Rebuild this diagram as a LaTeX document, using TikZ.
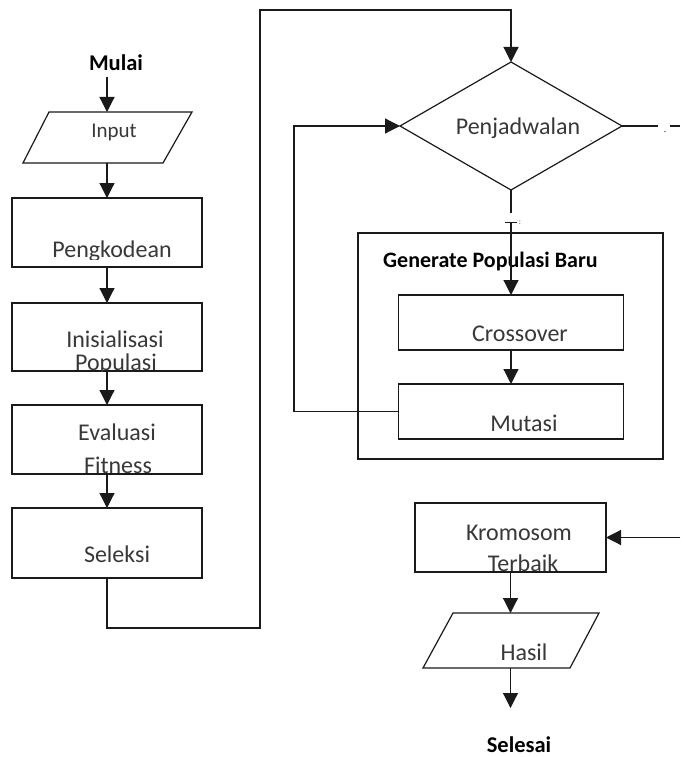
\documentclass[tikz,border=0pt]{standalone}
\usepackage{fontspec}
\setmainfont{Carlito}
\usetikzlibrary{arrows.meta,shapes.geometric}
\definecolor{txt}{HTML}{383838}
\definecolor{ln}{HTML}{1A1A1A}
\tikzset{
  box/.style={draw=ln, line width=1.2pt, inner sep=0pt, outer sep=0pt},
  lbl/.style={anchor=base, text=txt, font=\fontsize{24}{28}\selectfont, inner sep=0pt},
  blbl/.style={anchor=base, text=black, font=\fontsize{22.5}{26}\bfseries\selectfont, inner sep=0pt},
  conn/.style={draw=ln, line width=1.2pt},
  arr/.style={conn, -{Triangle[length=15pt,width=15pt]}},
  tinytxt/.style={font=\fontsize{8}{9}\selectfont, text=black!70, inner sep=0pt},
}
\begin{document}
\begin{tikzpicture}[x=1pt,y=-1pt]
\useasboundingbox (0,0) rectangle (680,757);
\fill[white] (0,0) rectangle (680,757);

% ---------- left column ----------
\node[blbl] (mulai) at (116,71) {Mulai};
\coordinate (mulaiOut) at (107,77);
\coordinate (inTop) at (107,112);
\coordinate (inBot) at (107,163);
\draw[conn] (49,112) -- (192,112) -- (163,163) -- (23,163) -- cycle;
\node[lbl, font=\fontsize{21}{25}\selectfont] (input) at (114,138) {Input};

\node[box, minimum width=190pt, minimum height=69pt] (pk)  at (107,232.5) {};
\node[box, minimum width=190pt, minimum height=68pt] (ini) at (107,337) {};
\node[box, minimum width=190pt, minimum height=69pt] (eva) at (107,439.5) {};
\node[box, minimum width=190pt, minimum height=70pt] (sel) at (107,543) {};

\begin{scope}
  \clip (pk.north west) rectangle ([yshift=8pt]pk.south east);
  \node[lbl] (pkt) at (112,257) {Pengkodean};
\end{scope}
\begin{scope}
  \clip (ini.north west) rectangle (ini.south east);
  \node[lbl] (init1) at (115,347) {Inisialisasi};
  \node[lbl] (init2) at (116,370) {Populasi};
\end{scope}
\begin{scope}
  \clip (eva.north west) rectangle (eva.south east);
  \node[lbl] (evat1) at (117,440) {Evaluasi};
  \node[lbl] (evat2) at (118,473) {Fitness};
\end{scope}
\node[lbl] (selt) at (117,562) {Seleksi};

\draw[arr] (mulaiOut) -- (inTop);
\draw[arr] (inBot) -- (pk.north);
\draw[arr] (pk.south) -- (ini.north);
\draw[arr] (ini.south) -- (eva.north);
\draw[arr] (eva.south) -- (sel.north);

% ---------- diamond ----------
\node[box, shape=diamond, minimum width=222pt, minimum height=128pt] (dia) at (511,126) {};
\node[lbl] (diat) at (518,135) {Penjadwalan};
\node[tinytxt] (comma) at (591,142) {,};

\coordinate (c1) at (260,628);
\coordinate (c2) at (260,10);
\draw[arr] (sel.south) |- (c1) -- (c2) -| (dia.north);

% right exit
\coordinate (r1) at (658,126);
\coordinate (r2) at (670,126);
\coordinate (r3) at (680,126);
\draw[conn] (dia.east) -- (r1);
\draw[conn] (r2) -- (r3);
\node[tinytxt, text=ln] (dash) at (665,133) {-};

% ---------- generate box ----------
\node[box, minimum width=305pt, minimum height=226pt] (gen) at (510.5,346) {};
\node[blbl, anchor=base west, font=\fontsize{22}{26}\bfseries\selectfont] (gent) at (383,267) {Generate Populasi Baru};

\node[box, minimum width=225pt, minimum height=55pt] (cro) at (511,322.5) {};
\node[lbl] (crot) at (520,341) {Crossover};
\node[box, minimum width=225pt, minimum height=55pt] (mut) at (511,411.5) {};
\node[lbl] (mutt) at (524,431) {Mutasi};

\coordinate (t1) at (511,213);
\coordinate (t2) at (511,222);
\coordinate (t2a) at (505,222);
\coordinate (t2b) at (517,222);
\draw[conn] (dia.south) -- (t1);
\draw[conn, line width=1pt] (t2a) -- (t2b);
\node[tinytxt] (tcolon) at (520,223) {:};
\draw[arr] (t2) -- (cro.north);
\draw[arr] (cro.south) -- (mut.north);

\coordinate (f1) at (294,413);
\draw[arr] (mut.west) -- (mut.west -| f1) |- (dia.west);

% ---------- bottom right ----------
\node[box, minimum width=191pt, minimum height=69pt] (kro) at (510.5,537.5) {};
\node[lbl] (krot1) at (519,540) {Kromosom};
\node[lbl] (krot2) at (523,571) {Terbaik};
\coordinate (kin) at (680,537.5);
\draw[arr] (kin) -- (kro.east);

\coordinate (hTop) at (510.5,613);
\coordinate (hBot) at (510.5,668);
\draw[conn] (453,613) -- (599,613) -- (570,668) -- (423,668) -- cycle;
\node[lbl] (hasilt) at (524,660) {Hasil};
\draw[arr] (kro.south) -- (hTop);
\coordinate (selIn) at (510.5,708);
\draw[arr] (hBot) -- (selIn);
\node[blbl] (selesai) at (519,752) {Selesai};
\end{tikzpicture}
\end{document}
